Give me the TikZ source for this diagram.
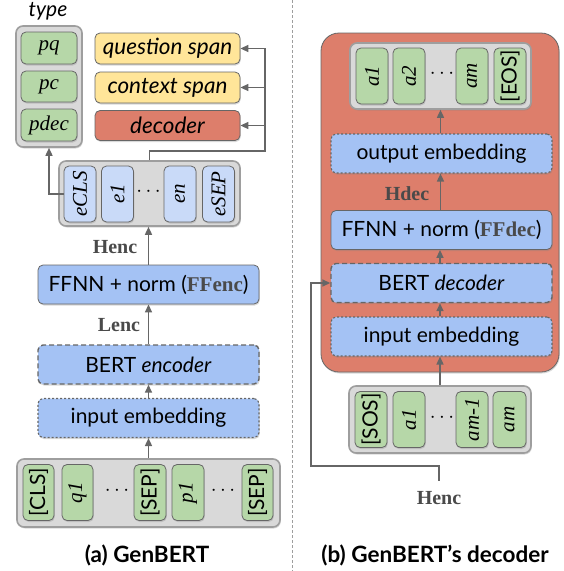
\documentclass[tikz,border=0pt]{standalone}
\usepackage{fontspec}
\setmainfont{Lato}
\newfontfamily\tmsfont{Liberation Serif}
\usepackage{tikz}
\usetikzlibrary{arrows.meta,positioning,shadows}
\definecolor{gline}{HTML}{666666}
\definecolor{gframe}{HTML}{9E9E9E}
\definecolor{ggreen}{HTML}{B6D7A8}
\definecolor{gyellow}{HTML}{FFE599}
\definecolor{gred}{HTML}{DD7E6B}
\definecolor{gblue}{HTML}{A4C2F4}
\definecolor{glblue}{HTML}{C9DAF8}
\definecolor{ggray}{HTML}{D9D9D9}
\definecolor{glabel}{HTML}{4A4A4A}
\newcommand{\vn}[1]{{\fontsize{21}{24}\selectfont\tmsfont\itshape #1}}
\newcommand{\ffsub}[1]{{\tmsfont\bfseries\color{glabel}#1}}

\begin{document}
\begin{tikzpicture}[
    x=1pt, y=-1pt,
    font=\fontsize{21}{25}\selectfont,
    >={Triangle[length=8pt, width=7pt]},
    conn/.style={draw=gline, line width=1.5pt},
    shdw/.style={drop shadow={opacity=0.3, shadow xshift=0.8pt, shadow yshift=-1.5pt}},
    box/.style={draw=gline, line width=0.8pt, rounded corners=5pt, inner sep=0, shdw},
    holder/.style={box, draw=gframe, fill=ggray, line width=1.6pt, rounded corners=7pt},
    layer/.style={box, fill=gblue, minimum width=221pt, minimum height=39pt},
    dashbox/.style={line width=1.4pt, dash pattern=on 5pt off 3pt},
    dotbox/.style={line width=1.1pt, dash pattern=on 2pt off 2pt},
    slot/.style={box, fill=ggreen, minimum width=56pt, minimum height=32pt},
    tok/.style={box, fill=ggreen, rotate=90, minimum width=56pt, minimum height=32pt},
    etok/.style={tok, fill=glblue},
    spanbox/.style={box, minimum width=145pt, minimum height=31pt, font=\fontsize{22.5}{26}\selectfont\itshape},
    lbl/.style={font=\fontsize{20}{24}\selectfont\tmsfont\bfseries, text=glabel},
    caption/.style={font=\fontsize{22.5}{26}\selectfont\bfseries}]
\useasboundingbox (0,0) rectangle (564,571);

\node[holder, minimum width=66pt, minimum height=121pt] (typebox) at (49,86.5) {};
\node[font=\fontsize{21}{25}\selectfont\itshape] (typelbl) at (48,11) {type};
\node[slot] (pq) at (49,48) {\vn{pq}};
\node[slot, minimum height=31pt] (pc) at (49,86.5) {\vn{pc}};
\node[slot] (pdec) at (49,125) {\vn{pdec}};

\node[spanbox, fill=gyellow] (qspan) at (167.5,48.5) {question span};
\node[spanbox, fill=gyellow] (cspan) at (167.5,87.5) {context span};
\node[spanbox, fill=gred, minimum height=30pt] (decspan) at (167.5,125.5) {decoder};

\node[holder, minimum width=181pt, minimum height=65pt] (encout) at (149.5,193.5) {};
\node[etok] (ecls) at (80,194) {\vn{eCLS}};
\node[etok] (eone) at (117.5,194) {\vn{e1}};
\node (edots) at (148.5,192) {$\cdots$};
\node[etok] (en) at (180,194) {\vn{en}};
\node[etok] (esep) at (218.5,194) {\vn{eSEP}};

\node[lbl] (henca) at (115,247) {Henc};
\node[layer] (ffenc) at (148.5,284.5) {FFNN + norm (\ffsub{FFenc})};
\node[lbl] (lenc) at (119,325) {Lenc};
\node[layer, dashbox] (bertenc) at (148.5,364.5) {BERT \textit{encoder}};
\node[layer, dotbox] (inenc) at (148.5,418) {input embedding};

\node[holder, minimum width=263pt, minimum height=68pt] (qptok) at (148.5,493) {};
\node[tok, minimum height=31pt] (cls) at (38.5,492.5) {[CLS]};
\node[tok, minimum height=31pt] (qone) at (77.5,492.5) {\vn{q1}};
\node (qdots) at (117,491) {$\cdots$};
\node[tok] (sepa) at (150,492.5) {[SEP]};
\node[tok] (pone) at (188,492.5) {\vn{p1}};
\node (pdots) at (223,491) {$\cdots$};
\node[tok, minimum height=31pt] (sepb) at (257.5,492.5) {[SEP]};

\node[caption] (capa) at (147,555) {(a) GenBERT};

\path[conn, ->] (qptok.north) -- (inenc.south);
\path[conn, ->] (inenc.north) -- (bertenc.south);
\path[conn, ->] (bertenc.north) -- (ffenc.south);
\path[conn, ->] (ffenc.north) -- (ffenc.north |- encout.south);
\coordinate (fork) at (265,151);
\path[conn, ->] (encout.north) |- (fork) |- (qspan.east);
\path[conn, ->] (fork) |- (cspan.east);
\path[conn, ->] (fork) |- (decspan.east);
\path[conn, ->] (ecls.north) -| (typebox.south);

\coordinate (septop) at (292,0);
\coordinate (sepbot) at (292,571);
\path[draw, gframe, line width=1pt, dash pattern=on 3pt off 2pt] (septop) -- (sepbot);

\node[box, fill=gred, rounded corners=18pt, minimum width=238pt, minimum height=339pt] (decbox) at (440,202.5) {};
\node[holder, minimum width=181pt, minimum height=66pt] (outtok) at (440.5,76) {};
\node[tok] (aone) at (372,76) {\vn{a1}};
\node[tok] (atwo) at (409,76) {\vn{a2}};
\node (adots) at (442,74) {$\cdots$};
\node[tok] (am) at (472,76) {\vn{am}};
\node[tok] (eos) at (510,76) {[EOS]};

\node[layer, dotbox] (outemb) at (441.5,153.5) {output embedding};
\node[lbl] (hdec) at (407,194) {Hdec};
\node[layer] (ffdec) at (441.5,230) {FFNN + norm (\ffsub{FFdec})};
\node[layer, dashbox] (bertdec) at (441.5,283) {BERT \textit{decoder}};
\node[layer, dotbox] (indec) at (441.5,336.5) {input embedding};

\node[holder, minimum width=182pt, minimum height=67pt] (intok) at (440,419.5) {};
\node[tok] (sos) at (371,419.5) {[SOS]};
\node[tok] (bone) at (409,419.5) {\vn{a1}};
\node (bdots) at (442,417.5) {$\cdots$};
\node[tok] (bmone) at (472,419.5) {\vn{am-1}};
\node[tok, minimum height=33pt] (bm) at (509.5,419.5) {\vn{am}};

\node[lbl] (hencb) at (439,498) {Henc};
\node[caption] (capb) at (435,555) {(b) GenBERT’s decoder};

\path[conn, ->] (intok.north) -- (intok.north |- indec.south);
\path[conn, ->] (intok.north |- indec.north) -- (intok.north |- bertdec.south);
\path[conn, ->] (intok.north |- bertdec.north) -- (intok.north |- ffdec.south);
\path[conn, ->] (outtok.south |- ffdec.north) -- (outtok.south |- outemb.south);
\path[conn, ->] (outtok.south |- outemb.north) -- (outtok.south);
\coordinate (hturn) at (311,466);
\path[conn, ->, shorten <=7pt] (hencb.north) |- (hturn) |- (bertdec.west);

\end{tikzpicture}
\end{document}
